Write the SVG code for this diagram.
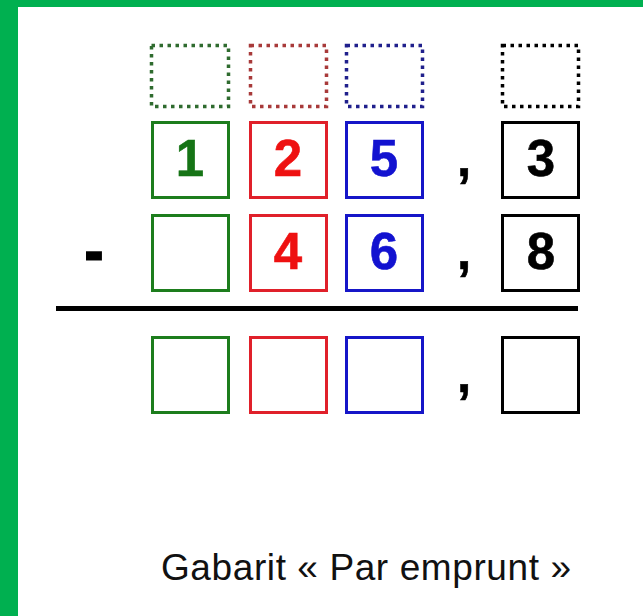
<svg xmlns="http://www.w3.org/2000/svg" width="643" height="616" viewBox="0 0 643 616">
<style>
.dot{fill:none;stroke-width:3.5;stroke-dasharray:3.5 4.5}
.box{fill:#fff;stroke-width:3}
.dig{font-family:"Liberation Sans",Arial,sans-serif;font-weight:bold;font-size:51px;text-anchor:middle;stroke-width:0.6}
.g{stroke:#1d7d1d}.r{stroke:#e0202a}.b{stroke:#1616c8}.k{stroke:#000}
.gd{stroke:#2f6b2f}.rd{stroke:#a83a3a}.bd{stroke:#20208c}
</style>
<rect x="0" y="0" width="643" height="616" fill="#fff"/>
<rect x="0" y="0" width="643" height="7" fill="#00b050"/>
<rect x="0" y="0" width="18" height="616" fill="#00b050"/>
<g id="carry">
<rect class="dot gd" x="151.5" y="45.5" width="77" height="61"/>
<rect class="dot rd" x="250.5" y="45.5" width="76" height="61"/>
<rect class="dot bd" x="346.5" y="45.5" width="76" height="61"/>
<rect class="dot k" x="502.5" y="45.5" width="76" height="61"/>
</g>
<g id="row1">
<rect class="box g" x="152.5" y="122.5" width="76" height="75"/>
<rect class="box r" x="250.5" y="122.5" width="76" height="75"/>
<rect class="box b" x="346.5" y="122.5" width="76" height="75"/>
<rect class="box k" x="502.5" y="122.5" width="76" height="75"/>
<text class="dig" x="190" y="176" fill="#167416" stroke="#167416">1</text>
<text class="dig" x="288" y="176" fill="#ee1111" stroke="#ee1111">2</text>
<text class="dig" x="384" y="176" fill="#1212d0" stroke="#1212d0">5</text>
<text class="dig" x="464" y="176" fill="#000" stroke="#000">,</text>
<text class="dig" x="541" y="176" fill="#000" stroke="#000">3</text>
</g>
<g id="row2">
<text class="dig" x="94" y="269" fill="#000" stroke="#000" style="stroke-width:3">-</text>
<rect class="box g" x="152.5" y="215.5" width="76" height="75"/>
<rect class="box r" x="250.5" y="215.5" width="76" height="75"/>
<rect class="box b" x="346.5" y="215.5" width="76" height="75"/>
<rect class="box k" x="502.5" y="215.5" width="76" height="75"/>
<text class="dig" x="288" y="269" fill="#ee1111" stroke="#ee1111">4</text>
<text class="dig" x="384" y="269" fill="#1212d0" stroke="#1212d0">6</text>
<text class="dig" x="464" y="269" fill="#000" stroke="#000">,</text>
<text class="dig" x="541" y="269" fill="#000" stroke="#000">8</text>
</g>
<g id="rule"><rect x="56" y="306" width="522" height="5" fill="#000"/></g>
<g id="row3">
<rect class="box g" x="152.5" y="337.5" width="76" height="75"/>
<rect class="box r" x="250.5" y="337.5" width="76" height="75"/>
<rect class="box b" x="346.5" y="337.5" width="76" height="75"/>
<rect class="box k" x="502.5" y="337.5" width="76" height="75"/>
<text class="dig" x="464" y="392" fill="#000" stroke="#000">,</text>
</g>
<g id="caption">
<text x="366" y="580" font-family="'Liberation Sans',Arial,sans-serif" font-size="37" text-anchor="middle" fill="#111" textLength="410">Gabarit « Par emprunt »</text>
</g>
</svg>
